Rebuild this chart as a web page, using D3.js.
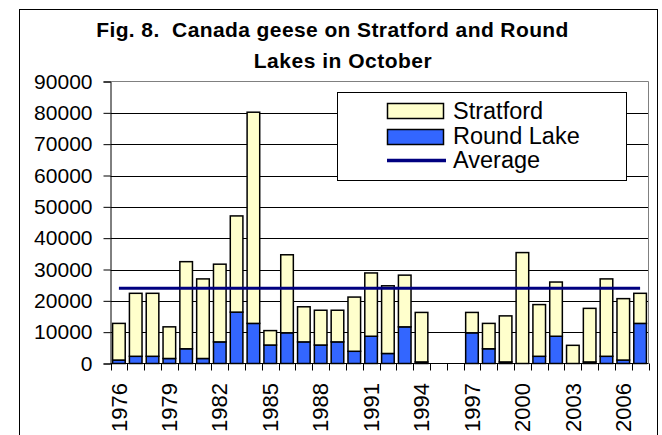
<!DOCTYPE html>
<html>
<head>
<meta charset="utf-8">
<script src="https://cdn.jsdelivr.net/npm/d3@7"></script>
<style>
  html, body { margin: 0; padding: 0; background: #fff; }
  svg { display: block; font-family: "Liberation Sans", Arial, sans-serif; }
  .title { white-space: pre; }
</style>
</head>
<body>
<svg id="chart" width="662" height="435"></svg>
<script>
// ---- data ----
const years = [1976,1977,1978,1979,1980,1981,1982,1983,1984,1985,1986,1987,1988,1989,1990,1991,
               1992,1993,1994,1995,1996,1997,1998,1999,2000,2001,2002,2003,2004,2005,2006,2007];
const roundLake = [1100,2300,2300,1600,4700,1600,6900,16400,12800,5900,9800,6900,5900,6900,3900,8700,
                   3200,11700,500,0,0,9800,4700,500,0,2300,8700,0,500,2300,1100,12800];
const stratford = [11700,20100,20100,10100,27800,25400,24800,30700,67400,4600,24900,11200,11100,10100,17300,20200,
                   21600,16500,15800,0,0,6500,8100,14700,35400,16500,17300,5800,17100,24700,19600,9600];
const average = [24000,24000,24000,24000,24000,24000,24000,24000,24000,24000,24000,24000,24000,24000,24000,24000,
                 24000,24000,24000,24000,24000,24000,24000,24000,24000,24000,24000,24000,24000,24000,24000,24000];
const yTicks = [0,10000,20000,30000,40000,50000,60000,70000,80000,90000];
const xLabelYears = [1976,1979,1982,1985,1988,1991,1994,1997,2000,2003,2006];
const seriesNames = ["Stratford", "Round Lake", "Average"];
const titleLines = ["Fig. 8.  Canada geese on Stratford and Round", "Lakes in October"];

// ---- layout ----
const svg = d3.select("#chart");
const plot = { left: 110.5, right: 648.5, top: 81.5, bottom: 363.5 };
const colors = { stratford: "#FFFFCC", round: "#3366FF", avg: "#000080" };

// outer border
svg.append("rect").attr("x", 19.5).attr("y", 9.5).attr("width", 638).attr("height", 440)
  .attr("fill", "#fff").attr("stroke", "#000").attr("stroke-width", 1);

// title
svg.append("text").attr("class", "title").attr("x", 332.5).attr("y", 37).attr("text-anchor", "middle")
  .attr("font-size", 21).attr("font-weight", "bold").attr("letter-spacing", 0.4)
  .text(titleLines[0]);
svg.append("text").attr("class", "title").attr("x", 343).attr("y", 68).attr("text-anchor", "middle")
  .attr("font-size", 21).attr("font-weight", "bold").attr("letter-spacing", 0.5)
  .text(titleLines[1]);

// scales
const x = d3.scaleBand().domain(years).range([plot.left, plot.right])
  .paddingInner(0.25).paddingOuter(0.125);
const step = x.step();
const y = d3.scaleLinear().domain([0, 90000]).range([plot.bottom, plot.top]);

// gridlines
svg.append("g").selectAll("line").data(yTicks.filter(d => d > 0 && d < 90000)).join("line")
  .attr("x1", plot.left).attr("x2", plot.right)
  .attr("y1", d => Math.round(y(d)) + 0.5).attr("y2", d => Math.round(y(d)) + 0.5)
  .attr("stroke", "#000").attr("stroke-width", 1);

// plot border (top & right gray)
svg.append("path")
  .attr("d", `M${plot.left},${plot.top}H${plot.right}V${plot.bottom}`)
  .attr("fill", "none").attr("stroke", "#808080").attr("stroke-width", 1);

// stacked bars
const data = years.map((yr, i) => ({ year: yr, round: roundLake[i], strat: stratford[i] }));
const stack = d3.stack().keys(["round", "strat"])(data);
const fills = { round: colors.round, strat: colors.stratford };
svg.append("g").selectAll("g").data(stack).join("g")
  .attr("fill", d => fills[d.key])
  .selectAll("rect").data(d => d.filter(p => p[1] - p[0] > 0)).join("rect")
  .attr("x", d => x(d.data.year))
  .attr("width", x.bandwidth())
  .attr("y", d => y(d[1]))
  .attr("height", d => y(d[0]) - y(d[1]))
  .attr("stroke", "#000").attr("stroke-width", 1.5);

// average line
const line = d3.line().x((d, i) => x(years[i]) + x.bandwidth() / 2).y(d => y(d));
svg.append("path").datum(average).attr("d", line)
  .attr("fill", "none").attr("stroke", colors.avg).attr("stroke-width", 3);

// y axis
const yAxis = svg.append("g").attr("transform", `translate(${plot.left},0)`)
  .call(d3.axisLeft(y).tickValues(yTicks).tickSize(7).tickPadding(11).tickFormat(d3.format("d")));
yAxis.select(".domain").attr("stroke", "#000");
yAxis.selectAll("text").attr("font-size", 21).attr("font-family", "Liberation Sans, Arial, sans-serif").attr("fill", "#000");

// x axis line and ticks at slot boundaries
svg.append("line").attr("x1", plot.left).attr("x2", plot.right)
  .attr("y1", plot.bottom).attr("y2", plot.bottom).attr("stroke", "#000");
const boundaries = years.map(yr => x(yr) - (step - x.bandwidth()) / 2).concat([plot.right]);
svg.append("g").selectAll("line").data(boundaries).join("line")
  .attr("x1", d => Math.round(d) + 0.5).attr("x2", d => Math.round(d) + 0.5)
  .attr("y1", plot.bottom).attr("y2", plot.bottom + 7)
  .attr("stroke", "#000");

// x labels
svg.append("g").selectAll("text").data(xLabelYears).join("text")
  .attr("transform", d => `translate(${x(d) + x.bandwidth() / 2},383) rotate(-90)`)
  .attr("text-anchor", "end").attr("dy", "0.35em")
  .attr("font-size", 22).attr("fill", "#000")
  .text(d => d);

// legend
const lg = svg.append("g");
lg.append("rect").attr("x", 337.5).attr("y", 92.5).attr("width", 289).attr("height", 88)
  .attr("fill", "#fff").attr("stroke", "#000");
lg.append("rect").attr("x", 387.5).attr("y", 103.5).attr("width", 56).attr("height", 15)
  .attr("fill", colors.stratford).attr("stroke", "#000").attr("stroke-width", 1.5);
lg.append("rect").attr("x", 387.5).attr("y", 129.5).attr("width", 56).attr("height", 15)
  .attr("fill", colors.round).attr("stroke", "#000").attr("stroke-width", 1.5);
lg.append("line").attr("x1", 387).attr("x2", 446).attr("y1", 160.5).attr("y2", 160.5)
  .attr("stroke", colors.avg).attr("stroke-width", 3.5);
const lgY = [119, 144, 168];
lg.selectAll("text.lt").data(seriesNames).join("text").attr("class", "lt")
  .attr("x", 453).attr("y", (d, i) => lgY[i])
  .attr("font-size", 23.5).attr("fill", "#000")
  .text(d => d);
</script>
</body>
</html>
